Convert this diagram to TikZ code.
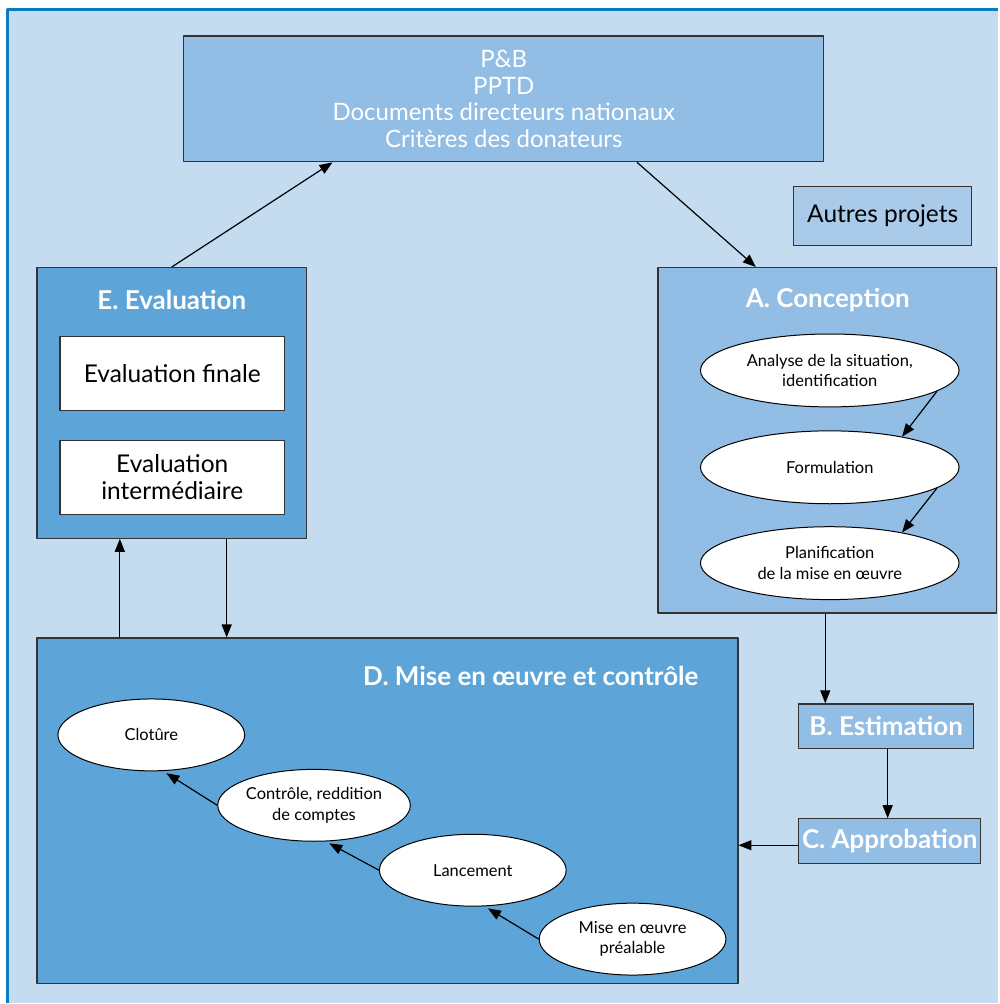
\documentclass[tikz,border=0pt]{standalone}
\usepackage{fontspec}
\setmainfont{Lato}
\usetikzlibrary{arrows.meta,shapes.geometric}
\definecolor{fond}{HTML}{C5DBEF}
\definecolor{cadre}{HTML}{0A7DC2}
\definecolor{bleuclair}{HTML}{92BDE4}
\definecolor{bleumoyen}{HTML}{5DA5D8}
\definecolor{bleupale}{HTML}{A9CAE8}
\definecolor{trait}{HTML}{333333}
\begin{document}
\begin{tikzpicture}[x=1pt,y=-1pt,>={Triangle[length=13pt,width=10pt]}, line join=round,
	boite/.style={rectangle, draw=trait, line width=1.2pt, inner sep=0pt, align=center},
	etape/.style={ellipse, draw=black, line width=1pt, fill=white, inner sep=0pt, align=center, font=\fontsize{16.5}{20.5}\selectfont},
	titre/.style={text=white, font=\bfseries\fontsize{26}{30}\selectfont},
	texte/.style={font=\fontsize{24.5}{27}\selectfont}]
	%Fond et cadre
	\fill[white] (0,0) rectangle (999,1004);
	\fill[fond] (7.5,9.5) rectangle (999,1004);
	\draw[cadre, line width=3pt] (7.5,1004)--(7.5,9.5)--(999,9.5);
	%Boites
	\node[boite, fill=bleuclair, text=white, font=\fontsize{24}{26.7}\selectfont, minimum width=641pt, minimum height=126pt] (ref) at (504.5,99) {P\&B\\PPTD\\Documents directeurs nationaux\\Critères des donateurs};
	\node[boite, fill=bleupale, texte, minimum width=178pt, minimum height=59pt] (autres) at (884,216.5) {Autres projets};
	\node[boite, fill=bleuclair, minimum width=339pt, minimum height=346pt] (concep) at (828.5,441) {};
	\node[titre] at (829,300) {A. Conception};
	\node[boite, fill=bleumoyen, minimum width=270pt, minimum height=271pt] (evalu) at (172,403.5) {};
	\node[titre] at (172,300) {E. Evaluation};
	\node[boite, fill=white, texte, minimum width=225pt, minimum height=74pt] (finale) at (172.5,374) {Evaluation finale};
	\node[boite, fill=white, texte, minimum width=225pt, minimum height=74pt] (interm) at (172.5,478) {Evaluation\\intermédiaire};
	\node[boite, fill=bleumoyen, minimum width=702pt, minimum height=346pt] (mise) at (388,812) {};
	\node[titre, anchor=east] at (703,677) {D. Mise en œuvre et contrôle};
	\node[boite, fill=bleuclair, titre, minimum width=175pt, minimum height=45pt] (estim) at (887.5,727.5) {B. Estimation};
	\node[boite, fill=bleuclair, titre, minimum width=182pt, minimum height=45pt] (approb) at (891,842.5) {C. Approbation};
	%Etapes A
	\node[etape, minimum width=259pt, minimum height=73pt] (analyse) at (831,371) {Analyse de la situation,\\identification};
	\node[etape, minimum width=259pt, minimum height=73pt] (formul) at (831,468) {Formulation};
	\node[etape, minimum width=259pt, minimum height=73pt] (planif) at (831,564) {Planification\\de la mise en œuvre};
	%Etapes D
	\node[etape, minimum width=187pt, minimum height=72pt] (cloture) at (151.5,736) {Clotûre};
	\node[etape, minimum width=187pt, minimum height=72pt] (controle) at (314.5,806.5) {Contrôle, reddition\\de comptes};
	\node[etape, minimum width=187pt, minimum height=72pt] (lance) at (473.5,871.5) {Lancement};
	\node[etape, minimum width=187pt, minimum height=72pt] (prealable) at (633.5,940.5) {Mise en œuvre\\préalable};
	%Fleches
	\begin{scope}[line width=1.2pt]
		\draw[->] ([xshift=133.5pt]ref.south)--([xshift=-71.5pt]concep.north);
		\draw[->] (evalu.north)--([xshift=-171.5pt]ref.south);
		\draw[->] ([xshift=55pt]evalu.south)--([xshift=55pt]evalu.south |- mise.north);
		\draw[->] ([xshift=-52pt]evalu.south |- mise.north)--([xshift=-52pt]evalu.south);
		\draw[->] ([xshift=-2pt]concep.south)--([xshift=-2pt]concep.south |- estim.north);
		\draw[->] ([xshift=1.5pt]estim.south)--([xshift=1.5pt]estim.south |- approb.north);
		\draw[->] ([yshift=-4pt]approb.west)--([yshift=-4pt]approb.west -| mise.east);
		\draw[->] (analyse.-11)--(formul.23);
		\draw[->] (formul.-11)--(planif.23);
		\draw[->, shorten >=4pt] (controle.west)--(cloture.-72);
		\draw[->, shorten >=4pt] (lance.west)--(controle.-72);
		\draw[->, shorten >=4pt] (prealable.west)--(lance.-72);
	\end{scope}
\end{tikzpicture}
\end{document}
